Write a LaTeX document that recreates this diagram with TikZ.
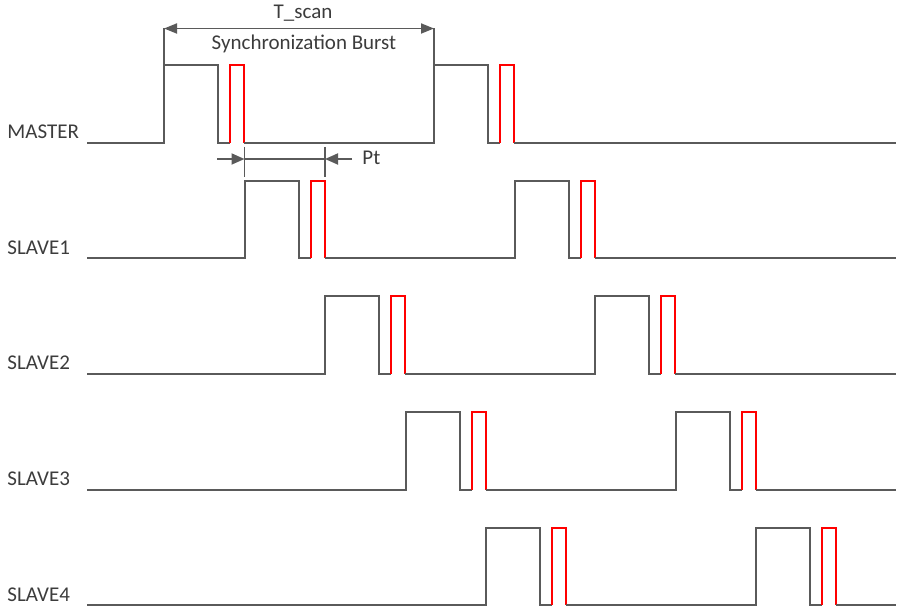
\documentclass[tikz,border=0pt]{standalone}
\usepackage{fontspec}
\setmainfont{Carlito}
\usepackage{tikz}
\usetikzlibrary{arrows.meta,positioning}
\definecolor{wavegray}{RGB}{90,90,90}
\definecolor{textgray}{RGB}{60,60,60}
\definecolor{burstred}{RGB}{255,0,0}

\tikzset{
  wave/.style={draw=wavegray, line width=1pt},
  burst/.style={draw=burstred, line width=1pt},
  dimline/.style={draw=wavegray, line width=0.9pt},
  lbl/.style={text=textgray, inner sep=0pt, font=\fontsize{10.5}{12}\selectfont},
}

\begin{document}
\begin{tikzpicture}[x=0.5pt, y=-0.5pt]
        \useasboundingbox (0,0) rectangle (900,609);
        % one row per board
        \foreach \name [count=\i from 0] in {MASTER,SLAVE1,SLAVE2,SLAVE3,SLAVE4} {
          \pgfmathsetmacro{\yb}{143+115.5*\i}
          \pgfmathsetmacro{\yh}{\yb-77.5}
          \pgfmathsetmacro{\ra}{164+80.5*\i}
          \pgfmathsetmacro{\rb}{\ra+270}
          \node[lbl, anchor=base west] (sig\i) at (7,\yb-4) {\name};
          \coordinate (up\i) at (\ra,\yh);
          \coordinate (upb\i) at (\rb,\yh);
          \draw[wave] (87,\yb) -- (\ra,\yb) -- (up\i) -- (\ra+54,\yh) -- (\ra+54,\yb) -- (\ra+66,\yb);
          \draw[burst] (\ra+66,\yb) -- (\ra+66,\yh) -- (\ra+80,\yh) -- (\ra+80,\yb);
          \draw[wave] (\ra+80,\yb) -- (\rb,\yb) -- (upb\i) -- (\rb+54,\yh) -- (\rb+54,\yb) -- (\rb+66,\yb);
          \draw[burst] (\rb+66,\yb) -- (\rb+66,\yh) -- (\rb+80,\yh) -- (\rb+80,\yb);
          \draw[wave] (\rb+80,\yb) -- (896,\yb);
        }
        % T_scan
        \draw[dimline] (up0) -- ++(0,-37) coordinate (tsL);
        \draw[dimline] (upb0) -- ++(0,-37) coordinate (tsR);
        \draw[dimline, {Triangle[length=6.5pt,width=5pt]}-{Triangle[length=6.5pt,width=5pt]}] (tsL) -- (tsR);
        \node[lbl] (tscan) at (303,13) {T\_scan};
        \node[lbl] (sync) at (304,44) {Synchronization Burst};
        % Pt
        \coordinate (ptA) at (244.5,159);
        \coordinate (ptB) at (325,159);
        \coordinate (ptL) at (217,159);
        \coordinate (ptR) at (352,159);
        \draw[dimline] (244.5,147) -- (244.5,177);
        \draw[dimline] (325,147) -- (325,177);
        \draw[dimline, -{Triangle[length=6.5pt,width=5.5pt]}] (ptL) -- (ptA);
        \draw[dimline] (ptA) -- (ptB);
        \draw[dimline, -{Triangle[length=6.5pt,width=5.5pt]}] (ptR) -- (ptB);
        \node[lbl, anchor=west] (pt) at (362,158) {Pt};
  \end{tikzpicture}
\end{document}
